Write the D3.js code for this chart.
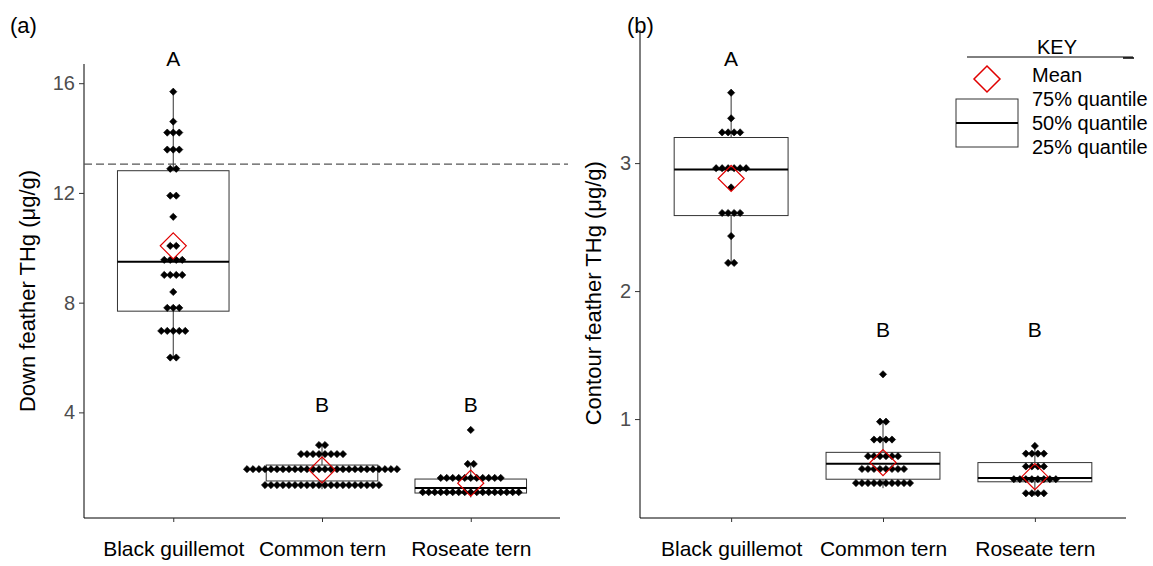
<!DOCTYPE html>
<html>
<head>
<meta charset="utf-8">
<script src="https://cdn.jsdelivr.net/npm/d3@7"></script>
<style>
body { margin: 0; background: #fff; }
text { font-family: "Liberation Sans", Arial, sans-serif; }
</style>
</head>
<body>
<svg id="chart" width="1153" height="566"></svg>
<script>

var species = ["Black guillemot", "Common tern", "Roseate tern"];

// (a) down feather THg, one value per bird
var downGuillemot = [15.69, 14.6, 14.2, 14.2, 14.2, 13.58, 13.58, 13.58, 12.88, 12.88,
	11.9, 11.9, 11.13, 10.07, 10.07, 9.56, 9.56, 9.56, 9.56, 9.01, 9.01, 9.01, 9.01,
	8.39, 7.81, 7.81, 7.81, 6.97, 6.97, 6.97, 6.97, 6.97, 6.0, 6.0];
var downCommon = [].concat(
	d3.range(2).map(function() { return 2.81; }),
	d3.range(8).map(function() { return 2.48; }),
	d3.range(26).map(function() { return 1.93; }),
	d3.range(20).map(function() { return 1.35; }));
var downRoseate = [].concat([3.36, 2.12, 2.12],
	d3.range(11).map(function() { return 1.61; }),
	d3.range(17).map(function() { return 1.09; }));

// box stats per species: [whisker low, q1, median, q3, whisker high], mean
var downBox = [[6.0, 7.69, 9.49, 12.81, 15.69], [1.2, 1.50, 1.93, 2.08, 2.81], [0.9, 1.06, 1.24, 1.57, 2.12]];
var downMean = [10.07, 1.9, 1.42];
var downLetters = ["A", "B", "B"];
var downLetterY = [16.9, 4.27, 4.27];
var downTicks = [4, 8, 12, 16];
var downThreshold = 13.05;

// (b) contour feather THg
var contourGuillemot = [3.55, 3.35, 3.24, 3.24, 3.24, 3.24, 2.96, 2.96, 2.96, 2.96, 2.96, 2.96,
	2.81, 2.61, 2.61, 2.61, 2.61, 2.43, 2.22, 2.22];
var contourCommon = [].concat([1.35, 0.98, 0.98, 0.84, 0.84, 0.84, 0.84],
	d3.range(6).map(function() { return 0.71; }),
	d3.range(8).map(function() { return 0.61; }),
	d3.range(10).map(function() { return 0.50; }));
var contourRoseate = [].concat([0.79, 0.73, 0.73, 0.73, 0.73, 0.63, 0.63, 0.63, 0.63],
	d3.range(8).map(function() { return 0.53; }),
	[0.42, 0.42, 0.42, 0.42]);

var contourBox = [[2.22, 2.59, 2.95, 3.20, 3.55], [0.46, 0.53, 0.65, 0.74, 0.98], [0.40, 0.51, 0.54, 0.66, 0.79]];
var contourMean = [2.88, 0.66, 0.55];
var contourLetters = ["A", "B", "B"];
var contourLetterY = [3.82, 1.70, 1.70];
var contourTicks = [1, 2, 3];

var keyLabels = ["Mean", "75% quantile", "50% quantile", "25% quantile"];

var svg = d3.select("#chart");
var dotSym = d3.symbol().type(d3.symbolSquare).size(26);

function drawPanel(p) {

	var g = svg.append("g");

	var x = d3.scalePoint().domain(species).range(p.xRange).padding(0.6);
	var y = d3.scaleLinear().domain(p.yDomain).range(p.yRange);
	var boxW = x.step() * 0.75;

	// axes
	var yAxis = g.append("g")
		.attr("transform", "translate(" + p.xRange[0] + ",0)")
		.call(d3.axisLeft(y).tickValues(p.ticks).tickSize(5).tickPadding(4).tickFormat(d3.format("d")));
	yAxis.select(".domain").attr("stroke", "#000").attr("d", "M0," + p.yRange[0] + "V" + p.yRange[1]);
	yAxis.selectAll(".tick line").attr("stroke", "#333");
	yAxis.selectAll(".tick text").attr("fill", "#4d4d4d").style("font-size", "20px").attr("font-family", null);

	var xAxis = g.append("g")
		.attr("transform", "translate(0," + p.yRange[0] + ")")
		.call(d3.axisBottom(x).tickSize(4).tickPadding(19));
	xAxis.select(".domain").attr("stroke", "#000").attr("d", "M" + p.xRange[0] + ",0H" + p.xRange[1]);
	xAxis.selectAll(".tick line").attr("stroke", "#333");
	xAxis.selectAll(".tick text").attr("fill", "#000").style("font-size", "21px").attr("font-family", null);

	g.append("text")
		.attr("transform", "translate(" + p.titleX + "," + y((p.yDomain[0] + p.yDomain[1]) / 2 + p.titleShift) + ") rotate(-90)")
		.attr("text-anchor", "middle")
		.attr("dy", "0.35em")
		.style("font-size", "22px")
		.text(p.title);

	g.append("text")
		.attr("x", p.tagX).attr("y", 33)
		.style("font-size", "22px")
		.text(p.tag);

	if (p.threshold != undefined) {
		g.append("line")
			.attr("x1", p.xRange[0]).attr("x2", p.xRange[1] + 8)
			.attr("y1", y(p.threshold)).attr("y2", y(p.threshold))
			.attr("stroke", "#555").attr("stroke-width", 1.2)
			.attr("stroke-dasharray", "8,4");
	}

	species.forEach(function(s, i) {
		var cx = x(s);
		var b = p.box[i];

		// whiskers
		g.append("line").attr("x1", cx).attr("x2", cx).attr("y1", y(b[3])).attr("y2", y(b[4]))
			.attr("stroke", "#333");
		g.append("line").attr("x1", cx).attr("x2", cx).attr("y1", y(b[1])).attr("y2", y(b[0]))
			.attr("stroke", "#333");
		g.append("rect")
			.attr("x", cx - boxW / 2).attr("width", boxW)
			.attr("y", y(b[3])).attr("height", y(b[1]) - y(b[3]))
			.attr("fill", "#fff").attr("stroke", "#333");
		g.append("line").attr("x1", cx - boxW / 2).attr("x2", cx + boxW / 2)
			.attr("y1", y(b[2])).attr("y2", y(b[2]))
			.attr("stroke", "#000").attr("stroke-width", 2);

		// dots, stacked sideways within each value
		var rows = d3.rollups(p.dots[i], function(v) { return v.length; }, function(d) { return d; });
		rows.forEach(function(r) {
			for (var k = 0; k < r[1]; k++) {
				g.append("path")
					.attr("d", dotSym)
					.attr("transform", "translate(" + (cx + (k - (r[1] - 1) / 2) * 6) + "," + y(r[0]) + ") rotate(45)")
					.attr("fill", "#000")
					.attr("stroke", "#000").attr("stroke-width", 0.6).attr("stroke-linejoin", "round");
			}
		});

		// mean
		var my = y(p.mean[i]);
		g.append("path")
			.attr("d", "M" + cx + "," + (my - 13) + "L" + (cx + 13) + "," + my + "L" + cx + "," + (my + 13) + "L" + (cx - 13) + "," + my + "Z")
			.attr("fill", "none").attr("stroke", "#e00000").attr("stroke-width", 1.2);

		g.append("text")
			.attr("x", cx).attr("y", y(p.letterY[i]))
			.attr("text-anchor", "middle").attr("dy", "0.35em")
			.style("font-size", "21px")
			.text(p.letters[i]);
	});
}

drawPanel({
	xRange: [84, 560], yDomain: [0.15, 16.7], yRange: [518, 64],
	ticks: downTicks, dots: [downGuillemot, downCommon, downRoseate],
	box: downBox, mean: downMean, letters: downLetters, letterY: downLetterY,
	threshold: downThreshold, title: "Down feather THg (\u03bcg/g)", titleX: 27, titleShift: 0,
	tag: "(a)", tagX: 10
});

drawPanel({
	xRange: [640, 1126], yDomain: [0.227, 4.04], yRange: [518, 30],
	ticks: contourTicks, dots: [contourGuillemot, contourCommon, contourRoseate],
	box: contourBox, mean: contourMean, letters: contourLetters, letterY: contourLetterY,
	title: "Contour feather THg (\u03bcg/g)", titleX: 593, titleShift: -0.15,
	tag: "(b)", tagX: 627
});

// key (drawn as an annotation in the top right of panel b)
var key = svg.append("g");
key.append("text").attr("x", 1057).attr("y", 54).attr("text-anchor", "middle")
	.style("font-size", "20px").text("KEY");
key.append("line").attr("x1", 967).attr("x2", 1133).attr("y1", 57).attr("y2", 57)
	.attr("stroke", "#000").attr("stroke-width", 1);
key.append("line").attr("x1", 1123).attr("x2", 1134).attr("y1", 58).attr("y2", 58)
	.attr("stroke", "#000").attr("stroke-width", 1.5);
key.append("path").attr("d", "M987,66L1000,79L987,92L974,79Z")
	.attr("fill", "none").attr("stroke", "#e00000").attr("stroke-width", 1.5);
key.append("rect").attr("x", 956).attr("y", 99).attr("width", 62).attr("height", 48)
	.attr("fill", "#fff").attr("stroke", "#333");
key.append("line").attr("x1", 956).attr("x2", 1018).attr("y1", 123).attr("y2", 123)
	.attr("stroke", "#000").attr("stroke-width", 2);
key.selectAll("text.lab").data(keyLabels).enter().append("text")
	.attr("class", "lab")
	.attr("x", 1032).attr("y", function(d, i) { return 82 + i * 24; })
	.style("font-size", "20px")
	.text(function(d) { return d; });

</script>
</body>
</html>
